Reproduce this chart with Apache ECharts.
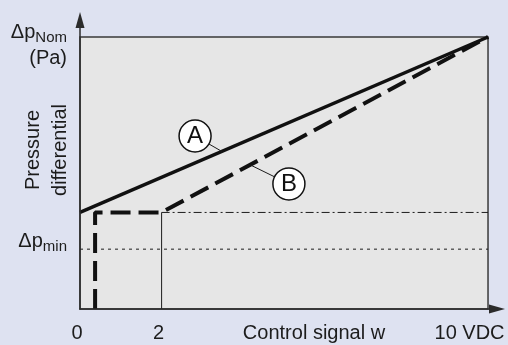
<!DOCTYPE html>
<html>
<head>
<meta charset="utf-8">
<script src="https://cdn.jsdelivr.net/npm/echarts@6/dist/echarts.min.js"></script>
<style>
  html, body { margin: 0; padding: 0; background: #dee2f1; }
  #chart { width: 508px; height: 345px; }
</style>
</head>
<body>
<div id="chart"></div>
<script>
// x = control signal w (V), y = pressure differential (% of Δp Nom)
var curveA = [[0, 35.5], [10, 100]];
var curveB = [[0.37, 0], [0.37, 35.5], [2, 35.5], [10, 100]];
var startLevel = [[2, 35.5], [10, 35.5]];   // dash-dot
var minLevel = [[0, 22], [10, 22]];         // Δp min, dotted
var twoVolt = [[2, 0], [2, 35.5]];
var plotBox = [[0, 0], [10, 100]];

var xTicks = [0, 2, 10];
var xTickText = ['{n|0}', '{n|2}', '{r|10 VDC}'];
var yTicks = [22, 100];
var yTickText = ['{d|Δp}{s|min}\n{e| }', '{e| }\n{d|Δp}{s|Nom}\n{d|(Pa)}'];

// curve markers A / B and their leader lines
var markers = [{ name: 'A', value: [2.82, 63.6] }, { name: 'B', value: [5.12, 46.0] }];
var leaderA = [[2.82, 63.6], [3.48, 57.9]];
var leaderB = [[5.12, 46.0], [4.17, 53.0]];

var font = "'Liberation Sans', Arial, Helvetica, sans-serif";
var ink = '#1c1c1c';

var chart = echarts.init(document.getElementById('chart'));

function plain(data, style) {
  return {
    type: 'line',
    data: data,
    symbol: 'none',
    silent: true,
    lineStyle: Object.assign({ color: ink, width: 1 }, style)
  };
}

var option = {
  animation: false,
  backgroundColor: '#dee2f1',
  grid: { left: 80, right: 11, top: 20, bottom: 36, outerBoundsMode: 'none', containLabel: false },
  xAxis: {
    type: 'value',
    min: 0,
    max: 10.22,
    z: 5,
    axisLine: {
      show: true,
      symbol: ['none', 'triangle'],
      symbolSize: [9, 16],
      lineStyle: { color: '#2b2b2b', width: 1.5 }
    },
    axisTick: { show: false },
    splitLine: { show: false },
    axisLabel: {
      customValues: xTicks,
      margin: 14,
      fontSize: 20,
      color: ink,
      fontFamily: font,
      formatter: function (v) {
        return xTickText[xTicks.indexOf(v)];
      },
      rich: {
        n: { fontSize: 20, color: ink, fontFamily: font, padding: [0, 6, 0, 0] },
        r: { fontSize: 20, color: ink, fontFamily: font, padding: [0, 37, 0, 0] }
      }
    },
    name: 'Control signal w',
    nameLocation: 'middle',
    nameGap: 14,
    nameMoveOverlap: false,
    nameTextStyle: { fontSize: 20, color: ink, fontFamily: font, padding: [0, 0, 0, 51] }
  },
  yAxis: {
    type: 'value',
    min: 0,
    max: 106.25,
    z: 5,
    axisLine: {
      show: true,
      symbol: ['none', 'triangle'],
      symbolSize: [9, 16],
      lineStyle: { color: '#2b2b2b', width: 1.5 }
    },
    axisTick: { show: false },
    splitLine: { show: false },
    axisLabel: {
      customValues: yTicks,
      margin: 13,
      color: ink,
      fontFamily: font,
      formatter: function (v) {
        return yTickText[yTicks.indexOf(v)];
      },
      rich: {
        d: { fontSize: 20, lineHeight: 26, color: ink, fontFamily: font },
        s: { fontSize: 15, lineHeight: 14, verticalAlign: 'bottom', color: ink, fontFamily: font },
        e: { fontSize: 10, lineHeight: 16 }
      }
    },
    name: 'Pressure\ndifferential',
    nameLocation: 'middle',
    nameRotate: 90,
    nameGap: 6,
    nameMoveOverlap: false,
    nameTextStyle: { fontSize: 20, lineHeight: 27, color: ink, fontFamily: font, padding: [0, 0, 0, 29] }
  },
  series: [
    {
      type: 'line',
      data: [],
      silent: true,
      z: 1,
      markArea: {
        silent: true,
        itemStyle: { color: '#e6e6e6', borderColor: '#3a3a3a', borderWidth: 1.5 },
        data: [[{ coord: plotBox[0] }, { coord: plotBox[1] }]]
      }
    },
    plain(twoVolt, { width: 1 }),
    plain(startLevel, { width: 1, type: [8, 3, 2, 3] }),
    plain(minLevel, { width: 1, type: [3, 4] }),
    plain(curveB, { width: 4, type: [20, 8], color: '#111' }),
    plain(curveA, { width: 3.5, color: '#111' }),
    plain(leaderA, { width: 1 }),
    plain(leaderB, { width: 1 }),
    {
      type: 'scatter',
      data: markers,
      symbolSize: 32,
      silent: true,
      z: 4,
      itemStyle: { color: '#ffffff', borderColor: '#111', borderWidth: 1.5, opacity: 1 },
      label: {
        show: true,
        position: 'inside',
        formatter: '{b}',
        fontSize: 24,
        color: '#111',
        fontFamily: font
      }
    }
  ]
};

chart.setOption(option);
</script>
</body>
</html>
